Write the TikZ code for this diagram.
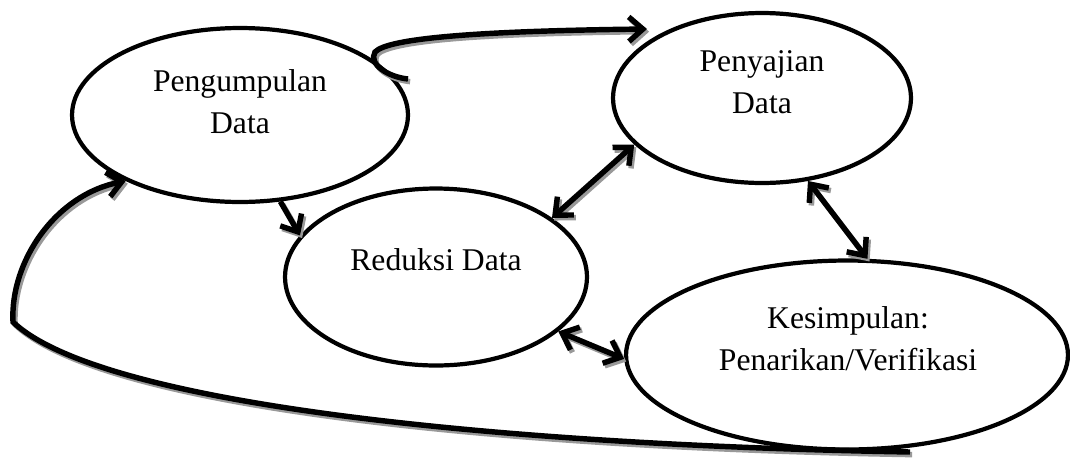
\documentclass[tikz,border=0pt]{standalone}
\usepackage{fontspec}
\setmainfont{Liberation Serif}
\usetikzlibrary{shapes.geometric, arrows.meta}

\begin{document}
\begin{tikzpicture}[x=0.02cm, y=-0.02cm, >={Straight Barb[length=8pt, width=14pt]},
    every node/.style={font=\fontsize{18pt}{24pt}\selectfont},
    phase/.style={ellipse, draw, line width=2.4pt, inner sep=0pt},
    caption/.style={align=center},
    flow/.style={draw, line width=3.1pt}]
    \useasboundingbox (0,0) rectangle (1070,457);

    \node[phase, minimum width=6.72cm, minimum height=3.48cm] (pd) at (240,115) {};
    \node[phase, minimum width=5.96cm, minimum height=3.40cm] (py) at (762,98)  {};
    \node[phase, minimum width=6.04cm, minimum height=3.54cm] (rd) at (436,277) {};
    \node[phase, minimum width=8.84cm, minimum height=3.78cm] (kv) at (847,355) {};

    \node[caption] (pd-t) at (240,102) {Pengumpulan\\Data};
    \node[caption] (py-t) at (762,82)  {Penyajian\\Data};
    \node[caption] (rd-t) at (436,260) {Reduksi Data};
    \node[caption] (kv-t) at (848,339) {Kesimpulan:\\Penarikan/Verifikasi};

    % loose ends of the two curved connectors
    \coordinate (hook)    at (408,79);
    \coordinate (hooktip) at (647,29);
    \coordinate (loopend) at (910,452);

    % first pass is the grey shadow, second pass the black line
    \foreach \ink/\dx/\dy in {black!40/1.2pt/-1.5pt, black/0pt/0pt} {
      \begin{scope}[color=\ink, transform canvas={shift={(\dx,\dy)}}]
        \draw[flow, ->] (hook) .. controls (388,77) and (368,64) .. (375,52)
                        .. controls (388,38) and (480,31) .. (hooktip);
        \draw[flow, ->] (loopend) .. controls (500,445) and (100,405) .. (13,322)
                        .. controls (10,262) and (55,195) .. (pd.210);
        \path[flow] (pd.-65) edge[->]  (rd.163)
                    (rd.27)  edge[<->] (py.200)
                    (py.-61) edge[<->] (kv.78)
                    (rd.-24) edge[<->] (kv.181);
      \end{scope}
    }
\end{tikzpicture}
\end{document}
